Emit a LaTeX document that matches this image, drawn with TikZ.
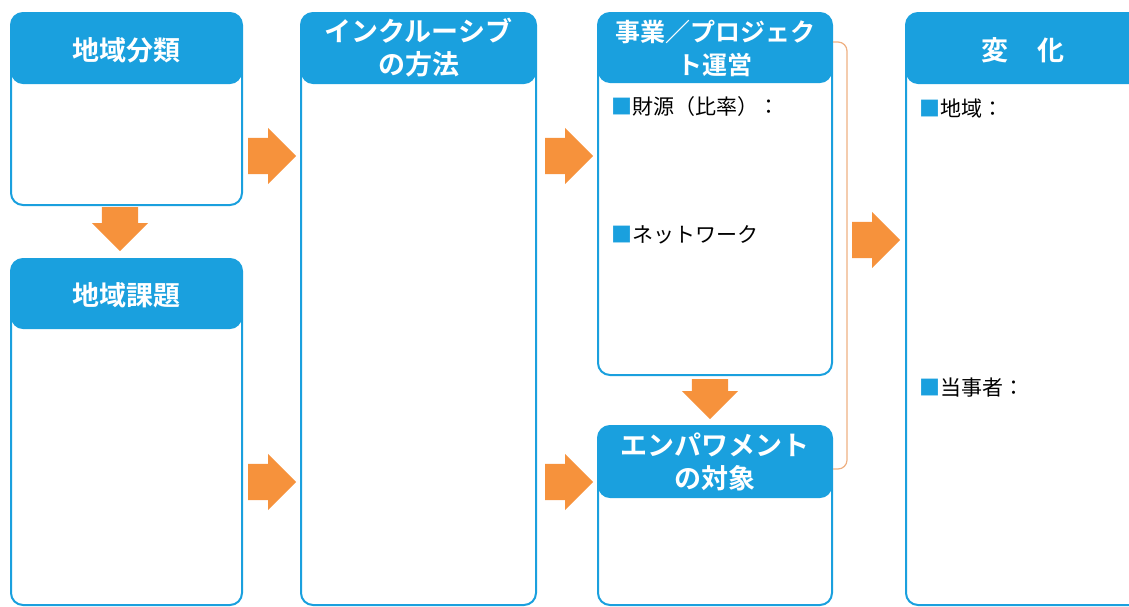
\documentclass[tikz,border=0pt]{standalone}
\usepackage{fontspec}
\newfontfamily\jp{Noto Sans CJK JP}[BoldFont={Noto Sans CJK JP Bold}]
\usetikzlibrary{shapes.arrows, positioning, calc}
\definecolor{hdblue}{RGB}{26,160,222}
\definecolor{arrorange}{RGB}{246,146,60}
\definecolor{linkorange}{RGB}{238,176,130}

\begin{document}
\begin{tikzpicture}[
    x=1pt, y=-1pt,
    panel/.style={draw=hdblue, line width=2pt, fill=white, rounded corners=12pt,
        anchor=north west, inner sep=0pt,
        path picture={\fill[hdblue] (path picture bounding box.north west)
            rectangle ([yshift=-#1]path picture bounding box.north east);}},
    title/.style={text=white, align=center, inner sep=0pt,
        font=\jp\bfseries\fontsize{27}{33}\selectfont},
    item/.style={anchor=west, inner sep=0pt, font=\jp\fontsize{21}{25}\selectfont},
    flow/.style={single arrow, fill=arrorange, draw=none, anchor=tail,
        inner xsep=0pt, inner ysep=18pt,
        minimum height=48pt, minimum width=56pt, single arrow head extend=10pt},
    flowdown/.style={flow, shape border rotate=270, inner xsep=18pt, inner ysep=0pt},
    link/.style={draw=linkorange, line width=1.2pt, rounded corners=9pt}
]
    \useasboundingbox (0,0) rectangle (1129,606);

    % panels
    \node[panel=71pt, minimum width=231pt, minimum height=192pt] (clsbox) at (10,12) {};
    \node[panel=70pt, minimum width=231pt, minimum height=346pt] (isubox) at (10,258) {};
    \node[panel=71pt, minimum width=235pt, minimum height=592pt] (incbox) at (300,12) {};
    \node[panel=70pt, minimum width=234pt, minimum height=362pt] (opsbox) at (597,12) {};
    \node[panel=72pt, minimum width=234pt, minimum height=179pt] (empbox) at (597,425) {};
    \node[panel=71pt, minimum width=240pt, minimum height=592pt] (chgbox) at (905,12) {};

    % headers
    \node[title] (clstitle) at ($(clsbox.north)+(0,38)$) {地域分類};
    \node[title] (isutitle) at ($(isubox.north)+(0,37)$) {地域課題};
    \node[title] (inctitle) at ($(incbox.north)+(0,36)$) {インクルーシブ\\の方法};
    \node[title, font=\jp\bfseries\fontsize{25}{33}\selectfont] (opstitle)
        at ($(opsbox.north)+(0,36)$) {事業／プロジェク\\ト運営};
    \node[title] (emptitle) at ($(empbox.north)+(0,37)$) {エンパワメント\\の対象};
    \node[title] (chgtitle) at ($(chgbox.north west)+(118,38)$) {変\hspace{1.1em}化};

    % items
    \node[item] (fundlbl) at ($(opsbox.north west)+(14,95)$) {\textcolor{hdblue}{■}財源（比率）：};
    \node[item] (netlbl) at ($(opsbox.north west)+(14,223)$) {\textcolor{hdblue}{■}ネットワーク};
    \node[item] (arealbl) at ($(chgbox.north west)+(14,97)$) {\textcolor{hdblue}{■}地域：};
    \node[item] (actorlbl) at ($(chgbox.north west)+(14,376)$) {\textcolor{hdblue}{■}当事者：};

    % arrows
    \node[flow] (flowa) at (248,156) {};
    \node[flow] (flowb) at (248,482) {};
    \node[flow] (flowc) at (545,156) {};
    \node[flow] (flowd) at (545,482) {};
    \node[flow] (flowe) at (852,240) {};
    \node[flowdown, minimum height=44pt] (flowf) at (120,207) {};
    \node[flowdown, minimum height=40pt] (flowg) at (710,379) {};

    % bracket
    \coordinate (lktop) at ($(opsbox.north east)+(0,30)$);
    \coordinate (lkbot) at ($(empbox.north east)+(0,44)$);
    \draw[link] (lktop) -| ($(lkbot)+(14,0)$) -- (lkbot);
\end{tikzpicture}
\end{document}
